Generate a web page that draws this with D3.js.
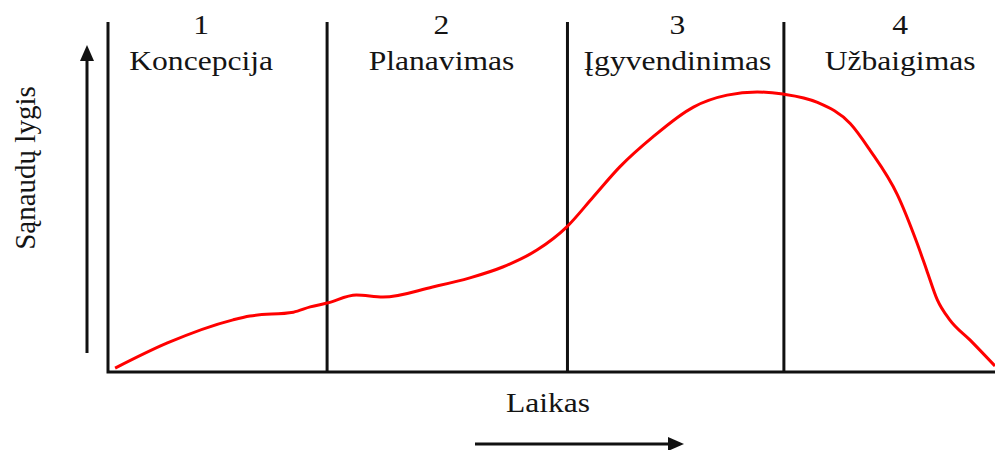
<!DOCTYPE html>
<html lang="lt">
<head>
    <meta charset="UTF-8">
    <title>Projekto gyvavimo ciklas</title>
    <script src="https://d3js.org/d3.v7.min.js"></script>
    <style>
body {
    margin: 0;
    background: #fff;
}

svg {
    display: block;
}

text {
    font-family: "Liberation Serif", "Times New Roman", serif;
    fill: #141414;
}
    </style>
</head>
<body>
    <svg id="chart" width="995" height="450"></svg>

    <script>
// phases
const phaseNumbers = ["1", "2", "3", "4"];
const phaseNames = ["Koncepcija", "Planavimas", "Įgyvendinimas", "Užbaigimas"];
const phaseLabelX = [10.5, 37.6, 64.2, 89.3];   // where the titles sit (time, %)
const phaseBounds = [24.7, 51.8, 76.2];          // dividing lines (time, %)

// cost curve: time (%) and cost level (%)
const timeValues = [0.8, 6.7, 14.1, 16.0, 20.9, 22.8, 24.7, 28.0, 31.0, 36.6, 40.8, 44.5, 48.4, 51.7,
    54.7, 57.7, 61.4, 66.0, 69.8, 73.2, 76.1, 79.9, 83.7, 85.9, 89.0, 91.2, 92.3, 93.5, 94.9, 97.2, 100];
const costValues = [1.1, 8.3, 14.9, 16.0, 17.1, 18.6, 19.7, 22.0, 21.4, 24.3, 26.9, 30.0, 34.9, 41.4,
    50.0, 58.6, 67.1, 75.7, 79.1, 80.0, 79.4, 77.1, 70.9, 63.4, 50.6, 36.9, 29.1, 20.6, 14.9, 9.1, 1.7];

const yLabel = "Sąnaudų lygis";
const xLabel = "Laikas";

const width = 995;
const height = 450;
const plotLeft = 108, plotRight = 995, plotTop = 22, plotBottom = 372;

const x = d3.scaleLinear().domain([0, 100]).range([plotLeft, plotRight]);
const y = d3.scaleLinear().domain([0, 100]).range([plotBottom, plotTop]);

const svg = d3.select("#chart");

// L-shaped axes
svg.append("path")
    .attr("d", `M${plotLeft},${plotTop}V${plotBottom}H${plotRight}`)
    .attr("fill", "none")
    .attr("stroke", "#111")
    .attr("stroke-width", 3);

// phase dividers
svg.selectAll("line.divider")
    .data(phaseBounds)
    .join("line")
    .attr("class", "divider")
    .attr("x1", d => x(d)).attr("x2", d => x(d))
    .attr("y1", plotTop).attr("y2", plotBottom)
    .attr("stroke", "#111")
    .attr("stroke-width", 3);

// cost curve
const points = timeValues.map((t, i) => ({ t: t, c: costValues[i] }));
const line = d3.line()
    .x(d => x(d.t))
    .y(d => y(d.c))
    .curve(d3.curveMonotoneX);

svg.append("path")
    .datum(points)
    .attr("fill", "none")
    .attr("stroke", "#ff0000")
    .attr("stroke-width", 3)
    .attr("stroke-linejoin", "round")
    .attr("d", line);

// phase titles (image is a bit stretched sideways, hence scale)
svg.selectAll("text.num")
    .data(phaseNumbers)
    .join("text")
    .attr("class", "num")
    .attr("text-anchor", "middle")
    .attr("font-size", 27)
    .attr("transform", (d, i) => `translate(${x(phaseLabelX[i])},34) scale(1.17,1)`)
    .text(d => d);

svg.selectAll("text.name")
    .data(phaseNames)
    .join("text")
    .attr("class", "name")
    .attr("text-anchor", "middle")
    .attr("font-size", 27)
    .attr("transform", (d, i) => `translate(${x(phaseLabelX[i])},70) scale(1.17,1)`)
    .text(d => d);

// arrows
function arrow(x1, y1, x2, y2) {
    const a = Math.atan2(y2 - y1, x2 - x1);
    const len = 16, half = 7;
    const bx = x2 - len * Math.cos(a), by = y2 - len * Math.sin(a);
    svg.append("line")
        .attr("x1", x1).attr("y1", y1)
        .attr("x2", bx).attr("y2", by)
        .attr("stroke", "#111")
        .attr("stroke-width", 3);
    svg.append("path")
        .attr("d", `M${x2},${y2}L${bx - half * Math.sin(a)},${by + half * Math.cos(a)}L${bx + half * Math.sin(a)},${by - half * Math.cos(a)}Z`)
        .attr("fill", "#111");
}

arrow(87, 353, 87, 45);
arrow(475, 444, 684, 444);

// axis titles
svg.append("text")
    .attr("text-anchor", "middle")
    .attr("font-size", 29)
    .attr("transform", "translate(35,168) rotate(-90)")
    .text(yLabel);

svg.append("text")
    .attr("text-anchor", "middle")
    .attr("font-size", 27)
    .attr("transform", "translate(548,412) scale(1.17,1)")
    .text(xLabel);
    </script>
</body>
</html>
